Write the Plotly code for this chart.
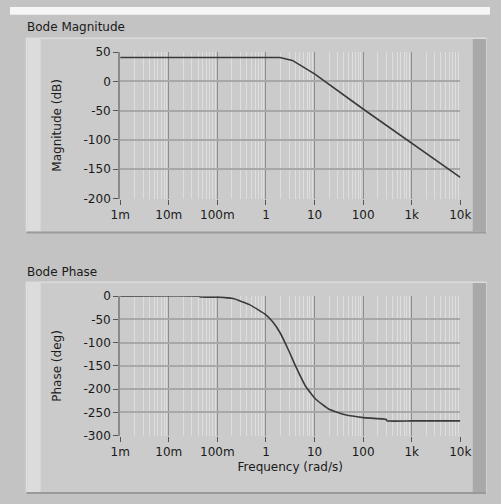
import plotly.graph_objects as go

# ---- data ----
mag_freq = [0.001, 0.01, 0.1, 1, 1.94, 3.5, 10, 100, 1000, 10000]
mag_db = [41, 41, 41, 41, 41, 36, 13, -47, -105, -164]

phase_freq = [0.001, 0.04, 0.045, 0.1, 0.21, 0.46, 1, 1.4, 1.94, 2.83, 4.1, 6.5,
              10.5, 20, 43, 100, 300, 310, 1000, 10000]
phase_deg = [0, 0, -1.5, -2, -5, -18, -40, -56, -78, -113, -151, -193,
             -221, -243, -255, -261, -265, -268, -268, -268]

x_tickvals = [0.001, 0.01, 0.1, 1, 10, 100, 1000, 10000]
x_ticktext = ["1m", "10m", "100m", "1", "10", "100", "1k", "10k"]
mag_ticks = [50, 0, -50, -100, -150, -200]
mag_ticktext = ["50", "0", "-50", "-100", "-150", "-200"]
phase_ticks = [0, -50, -100, -150, -200, -250, -300]
phase_ticktext = ["0", "-50", "-100", "-150", "-200", "-250", "-300"]

W, H = 501, 504
FONT = "DejaVu Sans"
TXT = "#1a1a1a"


def px(x):
    return x / W


def py(y):
    return 1 - y / H


fig = go.Figure()
fig.add_trace(go.Scatter(x=mag_freq, y=mag_db, mode="lines",
                         line=dict(color="#3a3a3a", width=1.6),
                         xaxis="x", yaxis="y", showlegend=False))
fig.add_trace(go.Scatter(x=phase_freq, y=phase_deg, mode="lines",
                         line=dict(color="#3a3a3a", width=1.6, shape="spline",
                                   smoothing=0.4),
                         xaxis="x2", yaxis="y2", showlegend=False))

xcommon = dict(
    type="log", range=[-3, 4], tickmode="array", tickvals=x_tickvals,
    ticktext=x_ticktext, showgrid=True, gridcolor="#8c8c8c", gridwidth=1,
    ticks="outside", ticklen=5, tickcolor="#555555", tickwidth=1,
    tickfont=dict(family=FONT, size=12, color=TXT),
    minor=dict(dtick="D1", showgrid=True, gridcolor="#dedede", gridwidth=1.2),
    showline=False, zeroline=False, fixedrange=True,
)
ycommon = dict(
    showgrid=True, gridcolor="#a8a8a8", gridwidth=1.5,
    ticks="outside", ticklen=5, tickcolor="#555555", tickwidth=1,
    tickfont=dict(family=FONT, size=12, color=TXT),
    showline=True, linecolor="#8a8a8a", linewidth=2,
    zeroline=False, fixedrange=True,
)

xdom = [px(115), px(470)]
fig.update_layout(
    width=W, height=H, margin=dict(l=0, r=0, t=0, b=0),
    paper_bgcolor="#c3c3c3", plot_bgcolor="#fdfdfd",
    xaxis=dict(domain=xdom, anchor="y", **xcommon),
    yaxis=dict(domain=[py(197), py(46.5)], anchor="x", range=[-200, 50],
               tickmode="array", tickvals=mag_ticks, ticktext=mag_ticktext,
               title=dict(text="Magnitude (dB)", standoff=19,
                          font=dict(family=FONT, size=12, color=TXT)),
               **ycommon),
    xaxis2=dict(domain=xdom, anchor="y2",
                title=dict(text="Frequency (rad/s)", standoff=4,
                           font=dict(family=FONT, size=12, color=TXT)),
                **xcommon),
    yaxis2=dict(domain=[py(441), py(297.5)], anchor="x2", range=[-300, 0],
                tickmode="array", tickvals=phase_ticks, ticktext=phase_ticktext,
                title=dict(text="Phase (deg)", standoff=19,
                           font=dict(family=FONT, size=12, color=TXT)),
                **ycommon),
)

shapes = []
# top white strip
shapes.append(dict(type="rect", xref="paper", yref="paper", x0=0, x1=1,
                   y0=py(8), y1=1, fillcolor="#f6f6f6", line_width=0, layer="below"))
for (top, bot) in [(32, 232), (283, 500)]:
    shapes.append(dict(type="rect", xref="paper", yref="paper",
                       x0=px(17), x1=px(497), y0=py(bot), y1=py(top),
                       fillcolor="#cbcbcb", line=dict(color="#e6e6e6", width=1),
                       layer="below"))
    shapes.append(dict(type="rect", xref="paper", yref="paper",
                       x0=px(18), x1=px(32), y0=py(bot - 1), y1=py(top + 1),
                       fillcolor="#dcdcdc", line_width=0, layer="below"))
    shapes.append(dict(type="rect", xref="paper", yref="paper",
                       x0=px(483), x1=px(497), y0=py(bot - 1), y1=py(top + 1),
                       fillcolor="#a9a9a9", line_width=0, layer="below"))
    shapes.append(dict(type="line", xref="paper", yref="paper",
                       x0=px(17), x1=px(497), y0=py(bot), y1=py(bot),
                       line=dict(color="#9a9a9a", width=2), layer="below"))
fig.update_layout(shapes=shapes)

fig.add_annotation(text="Bode Magnitude", xref="paper", yref="paper",
                   x=px(16), y=py(21), xanchor="left", yanchor="middle",
                   showarrow=False, font=dict(family=FONT, size=12, color=TXT))
fig.add_annotation(text="Bode Phase", xref="paper", yref="paper",
                   x=px(16), y=py(273), xanchor="left", yanchor="middle",
                   showarrow=False, font=dict(family=FONT, size=12, color=TXT))

fig.write_html("out.html")
